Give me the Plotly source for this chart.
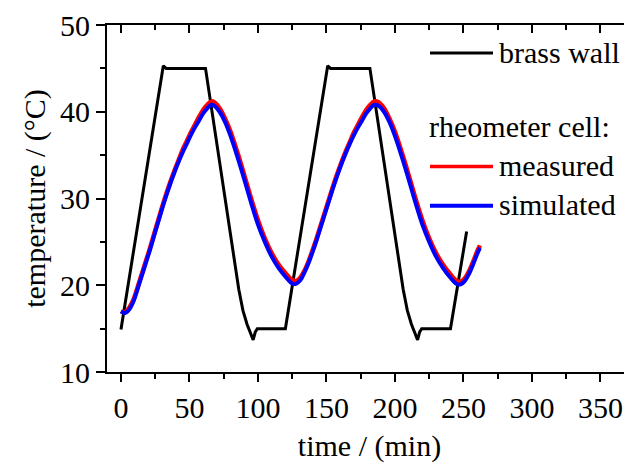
import plotly.graph_objects as go

# ---------------- data ----------------
wall_time = [0, 30.9, 33.0, 61.7, 86.0, 89.0, 92.0, 94.5, 96.5, 98.0, 99.5, 120.0,
             150.9, 153.0, 181.7, 206.0, 209.0, 212.0, 214.5, 216.5, 218.0, 219.5, 240.5, 252.3]
wall_temp = [14.9, 45.3, 45.0, 45.0, 19.5, 17.1, 15.5, 14.6, 13.7, 14.6, 15.0, 15.0,
             45.3, 45.0, 45.0, 19.5, 17.1, 15.5, 14.6, 13.7, 14.6, 15.0, 15.0, 26.2]

cell_time = [0, 3, 6, 9, 12, 15, 18, 21, 24, 27, 30, 33, 36, 39, 42, 45, 48, 51, 54, 57,
             60, 63, 66, 68, 72, 76, 80, 85, 90, 95, 100, 105, 110, 115, 120, 125, 128,
             131, 134, 137, 140, 143, 146, 149, 152, 155, 158, 161, 164, 167, 170, 173,
             176, 179, 182, 185, 188, 192, 196, 200, 205, 210, 215, 220, 225, 230, 235,
             240, 245, 248, 251, 254, 257, 260, 262]
simulated = [17.0, 16.8, 17.2, 18.1, 19.5, 21.0, 22.5, 24.0, 25.6, 27.2, 28.8, 30.3, 31.7,
             33.0, 34.2, 35.3, 36.3, 37.3, 38.2, 39.0, 39.8, 40.4, 40.8, 40.7, 40.0, 38.8,
             37.2, 34.8, 32.2, 29.5, 27.0, 25.0, 23.3, 22.0, 21.0, 20.2, 20.2, 20.6, 21.5,
             22.6, 23.9, 25.3, 26.8, 28.3, 29.8, 31.3, 32.7, 34.0, 35.2, 36.3, 37.3, 38.2,
             39.0, 39.8, 40.4, 40.8, 40.7, 40.0, 38.8, 37.2, 34.8, 32.2, 29.5, 27.0, 25.0,
             23.3, 22.0, 20.95, 20.15, 20.1, 20.5, 21.3, 22.4, 23.6, 24.3]
measured = [17.0, 16.9, 17.4, 18.3, 19.7, 21.2, 22.7, 24.2, 25.8, 27.4, 29.0, 30.5, 31.9,
            33.2, 34.4, 35.6, 36.6, 37.6, 38.5, 39.4, 40.2, 40.8, 41.2, 41.1, 40.4, 39.2,
            37.7, 35.3, 32.7, 30.0, 27.5, 25.4, 23.7, 22.4, 21.4, 20.6, 20.5, 20.9, 21.7,
            22.8, 24.1, 25.5, 27.0, 28.5, 30.0, 31.5, 32.9, 34.2, 35.4, 36.5, 37.6, 38.5,
            39.4, 40.2, 40.8, 41.2, 41.1, 40.4, 39.2, 37.7, 35.3, 32.7, 30.0, 27.5, 25.4,
            23.7, 22.4, 21.35, 20.5, 20.4, 20.8, 21.6, 22.7, 23.9, 24.6]

x_ticks = [0, 50, 100, 150, 200, 250, 300, 350]
y_ticks = [10, 20, 30, 40, 50]
legend_labels = ["brass wall", "measured", "simulated"]
legend_header = "rheometer cell:"

# ---------------- figure ----------------
OFF = 8                      # default page body margin
W, H = 632 - OFF, 470 - OFF  # figure size
L, R, T, B = 107, 632, 19, 372   # plot area in page pixels
FONT = "Liberation Serif, Times New Roman, serif"
FS = 30

fig = go.Figure()
fig.add_trace(go.Scatter(x=wall_time, y=wall_temp, mode="lines",
                         line=dict(color="black", width=3), showlegend=False))
fig.add_trace(go.Scatter(x=cell_time, y=measured, mode="lines",
                         line=dict(color="#ff0000", width=4.5, shape="spline"), showlegend=False))
fig.add_trace(go.Scatter(x=cell_time, y=simulated, mode="lines",
                         line=dict(color="#0000ff", width=4, shape="spline"), showlegend=False))

xr = [-10.2, 373.0]
yr = [10, 50]

axis_common = dict(showgrid=False, zeroline=False, linecolor="black", linewidth=2,
                   tickcolor="black", tickwidth=2)

fig.update_layout(
    width=W, height=H,
    margin=dict(l=L - OFF, r=632 - R, t=T - OFF, b=470 - B, pad=0),
    paper_bgcolor="white", plot_bgcolor="white",
    font=dict(family=FONT, size=FS, color="black"),
    showlegend=False,
    xaxis=dict(range=xr, tickvals=x_ticks, ticks="outside", ticklen=8, showline=True,
               ticklabeloverflow="allow",
               minor=dict(ticks="outside", ticklen=5, tickwidth=2, tickcolor="black",
                          dtick=25, tick0=0, showgrid=False),
               title=dict(text="time / (min)", font=dict(family=FONT, size=FS), standoff=12),
               tickfont=dict(family=FONT, size=FS), **axis_common),
    yaxis=dict(range=yr, tickvals=y_ticks, ticks="outside", ticklen=9, showline=True,
               ticklabeloverflow="allow",
               minor=dict(ticks="outside", ticklen=5, tickwidth=2, tickcolor="black",
                          dtick=5, tick0=0, showgrid=False),
               title=dict(text="temperature / (°C)", font=dict(family=FONT, size=FS), standoff=6),
               tickfont=dict(family=FONT, size=FS), **axis_common),
    xaxis2=dict(range=xr, overlaying="x", side="top", tickvals=x_ticks, ticks="inside",
                ticklen=8, showticklabels=False, showline=True,
                minor=dict(ticks="inside", ticklen=5, tickwidth=2, tickcolor="black",
                           dtick=25, tick0=0, showgrid=False),
                **axis_common),
    yaxis2=dict(range=yr, overlaying="y", side="right", tickvals=y_ticks, ticks="inside",
                ticklen=8, showticklabels=False, showline=False,
                minor=dict(ticks="inside", ticklen=5, tickwidth=2, tickcolor="black",
                           dtick=5, tick0=0, showgrid=False),
                **axis_common),
)
fig.add_trace(go.Scatter(x=[None], y=[None], xaxis="x2", yaxis="y2", showlegend=False,
                         hoverinfo="skip"))


def px_x(p):
    return (p - L) / (R - L)


def px_y(p):
    return (B - p) / (B - T)


legend_items = [(legend_labels[0], "black", 3, 47.5),
                (legend_labels[1], "#ff0000", 3.5, 163),
                (legend_labels[2], "#0000ff", 4, 203)]
for text, color, width, yy in legend_items:
    fig.add_shape(type="line", xref="paper", yref="paper",
                  x0=px_x(430), x1=px_x(493), y0=px_y(yy), y1=px_y(yy),
                  line=dict(color=color, width=width))
    fig.add_annotation(text=text, xref="paper", yref="paper", x=px_x(497), y=px_y(yy - 1),
                       xanchor="left", yanchor="middle", showarrow=False,
                       font=dict(family=FONT, size=FS, color="black"))
fig.add_annotation(text=legend_header, xref="paper", yref="paper", x=px_x(427), y=px_y(122),
                   xanchor="left", yanchor="middle", showarrow=False,
                   font=dict(family=FONT, size=FS, color="black"))

fig.write_html("out.html")
